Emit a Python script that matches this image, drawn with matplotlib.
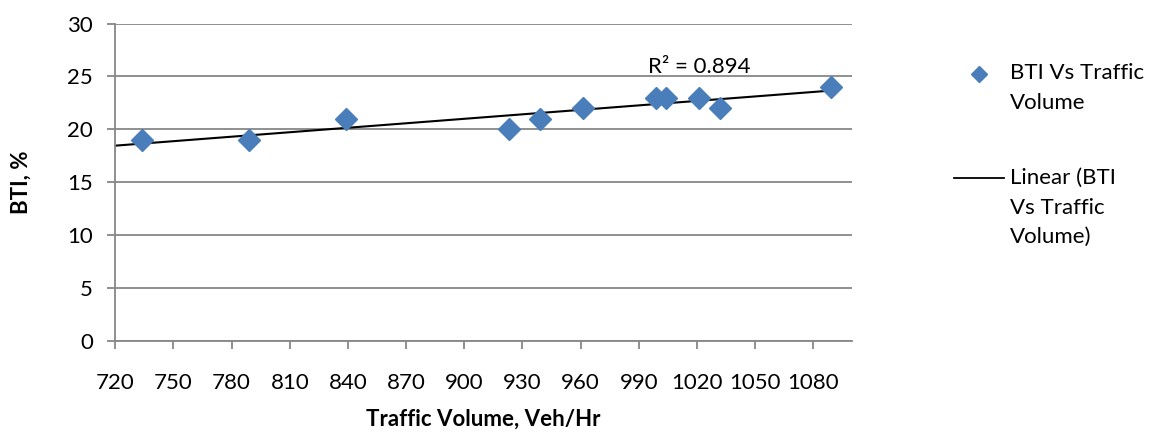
import numpy as np
import matplotlib
matplotlib.use("Agg")
import matplotlib.pyplot as plt
from matplotlib.lines import Line2D

plt.rcParams['font.family'] = ['Lato', 'DejaVu Sans']

traffic_volume = [734, 789, 839, 923, 939, 961, 999, 1004, 1021, 1032, 1089]
bti = [19, 19, 21, 20, 21, 22, 23, 23, 23, 22, 24]
x_ticks = list(range(720, 1081, 30))
y_ticks = list(range(0, 31, 5))
r2_label = "R² = 0.894"
series_label = "BTI Vs Traffic\nVolume"
trend_label = "Linear (BTI\nVs Traffic\nVolume)"

blue = '#4A7EBB'
grid_c = '#878787'
fs = 16

fig = plt.figure(figsize=(11.51, 4.36), dpi=100)
ax = fig.add_axes([0.1002, 0.2179, 0.7402 - 0.1002, 0.9461 - 0.2179])

ax.set_xlim(720, 1100)
ax.set_ylim(0, 30)
ax.set_xticks(x_ticks)
ax.set_yticks(y_ticks)
ax.grid(axis='y', color=grid_c, linewidth=1.3)
ax.set_axisbelow(True)
for s in ['top', 'right']:
    ax.spines[s].set_visible(False)
for s in ['left', 'bottom']:
    ax.spines[s].set_color(grid_c)
    ax.spines[s].set_linewidth(1.3)
ax.tick_params(axis='both', direction='out', length=6, width=1.3, color=grid_c,
               labelsize=fs, labelcolor='black')
ax.tick_params(axis='x', pad=17)
ax.tick_params(axis='y', pad=10)

# trendline (linear fit)
slope, intercept = np.polyfit(traffic_volume, bti, 1)
xt = np.array([720, max(traffic_volume)])
ax.plot(xt, slope * xt + intercept, color='black', linewidth=1.5, zorder=2)

ax.plot(traffic_volume, bti, linestyle='none', marker='D', markersize=11,
        color=blue, markeredgecolor=blue, zorder=3, clip_on=False)

ax.text(1021, 25.9, r2_label, ha='center', va='center', fontsize=fs)

ax.set_xlabel("Traffic Volume, Veh/Hr", fontsize=fs, fontweight='bold', labelpad=11)
ax.set_ylabel("BTI, %", fontsize=fs, fontweight='bold', labelpad=26)

# legend (manual layout)
fig.add_artist(Line2D([979 / 1151], [1 - 74 / 436], marker='D', markersize=8.5,
                      color=blue, linestyle='none', transform=fig.transFigure))
fig.text(1010 / 1151, 1 - 63 / 436, series_label, ha='left', va='top', fontsize=fs,
         linespacing=1.6)
fig.add_artist(Line2D([954 / 1151, 1004 / 1151], [1 - 178 / 436, 1 - 178 / 436],
                      color='black', linewidth=1.3, transform=fig.transFigure))
fig.text(1010 / 1151, 1 - 168 / 436, trend_label, ha='left', va='top', fontsize=fs,
         linespacing=1.6)

fig.savefig('out.png', dpi=100)
